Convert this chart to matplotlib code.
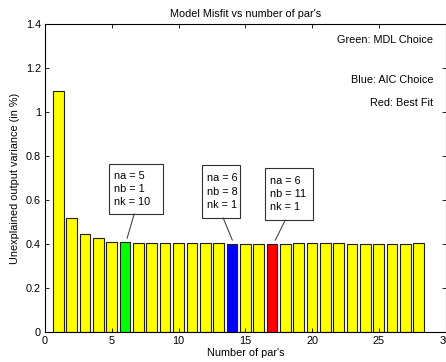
import numpy as np
import matplotlib
matplotlib.use('Agg')
from matplotlib import pyplot as plt
from matplotlib.patches import Rectangle

plt.rcParams['font.family'] = ['Liberation Sans', 'DejaVu Sans']

# misfit for each model size
n_pars = np.arange(1, 29)
misfit = [1.095, 0.518, 0.444, 0.429, 0.408, 0.408, 0.403, 0.403, 0.403, 0.403,
          0.403, 0.403, 0.403, 0.400, 0.399, 0.399, 0.399, 0.399, 0.403, 0.403,
          0.403, 0.403, 0.399, 0.399, 0.399, 0.399, 0.399, 0.403]

# highlighted choices: (number of pars, na, nb, nk)
mdl_choice = (6, 5, 1, 10)
aic_choice = (14, 6, 8, 1)
best_fit = (17, 6, 11, 1)

legend_lines = ['Green: MDL Choice', 'Blue: AIC Choice', 'Red: Best Fit']

FS = 7.8

fig = plt.figure(figsize=(4.46, 3.62), dpi=100)
ax = fig.add_axes([0.1009, 0.0829, 0.898, 0.8508])

colors = ['#ffff00'] * len(n_pars)
colors[mdl_choice[0] - 1] = '#00ff00'
colors[aic_choice[0] - 1] = '#0000ff'
colors[best_fit[0] - 1] = '#ff0000'

ax.bar(n_pars, misfit, width=0.8, color=colors, edgecolor='#202020', linewidth=0.8)

ax.set_xlim(0, 30)
ax.set_ylim(0, 1.4)
ax.set_xticks(np.arange(0, 31, 5))
ax.set_yticks(np.arange(0, 1.41, 0.2))
ax.set_yticklabels(['0', '0.2', '0.4', '0.6', '0.8', '1', '1.2', '1.4'])
ax.tick_params(direction='in', top=True, right=True, labelsize=FS, length=3, width=0.6, pad=3)
for s in ax.spines.values():
  s.set_linewidth(0.8)

ax.set_title("Model Misfit vs number of par's", fontsize=FS, pad=5)
ax.set_xlabel("Number of par's", fontsize=FS, labelpad=1)
ax.set_ylabel('Unexplained output variance (in %)', fontsize=FS, labelpad=4)

# colour key in the top right corner
for txt, y in zip(legend_lines, [1.327, 1.145, 1.041]):
  ax.text(29.1, y, txt, ha='right', va='center', fontsize=FS)

# callout boxes with the orders of each highlighted model
boxes = [
  (mdl_choice, (4.8, 0.536, 4.05, 0.228), (6.68, 6.15)),
  (aic_choice, (11.78, 0.518, 2.85, 0.241), (13.35, 14.03)),
  (best_fit, (16.5, 0.509, 3.6, 0.236), (18.0, 17.25)),
]
for (npar, na, nb, nk), (bx, by, bw, bh), (lx0, lx1) in boxes:
  ax.add_patch(Rectangle((bx, by), bw, bh, facecolor='white', edgecolor='#303030',
                         linewidth=0.8, zorder=3))
  ax.text(bx + 0.35, by + bh / 2, 'na = %d\nnb = %d\nnk = %d' % (na, nb, nk),
          ha='left', va='center', fontsize=FS, linespacing=1.4, zorder=4)
  ax.plot([lx0, lx1], [by, misfit[npar - 1] + 0.018], color='#303030', linewidth=0.7, zorder=3)

fig.savefig('out.png', dpi=100)
